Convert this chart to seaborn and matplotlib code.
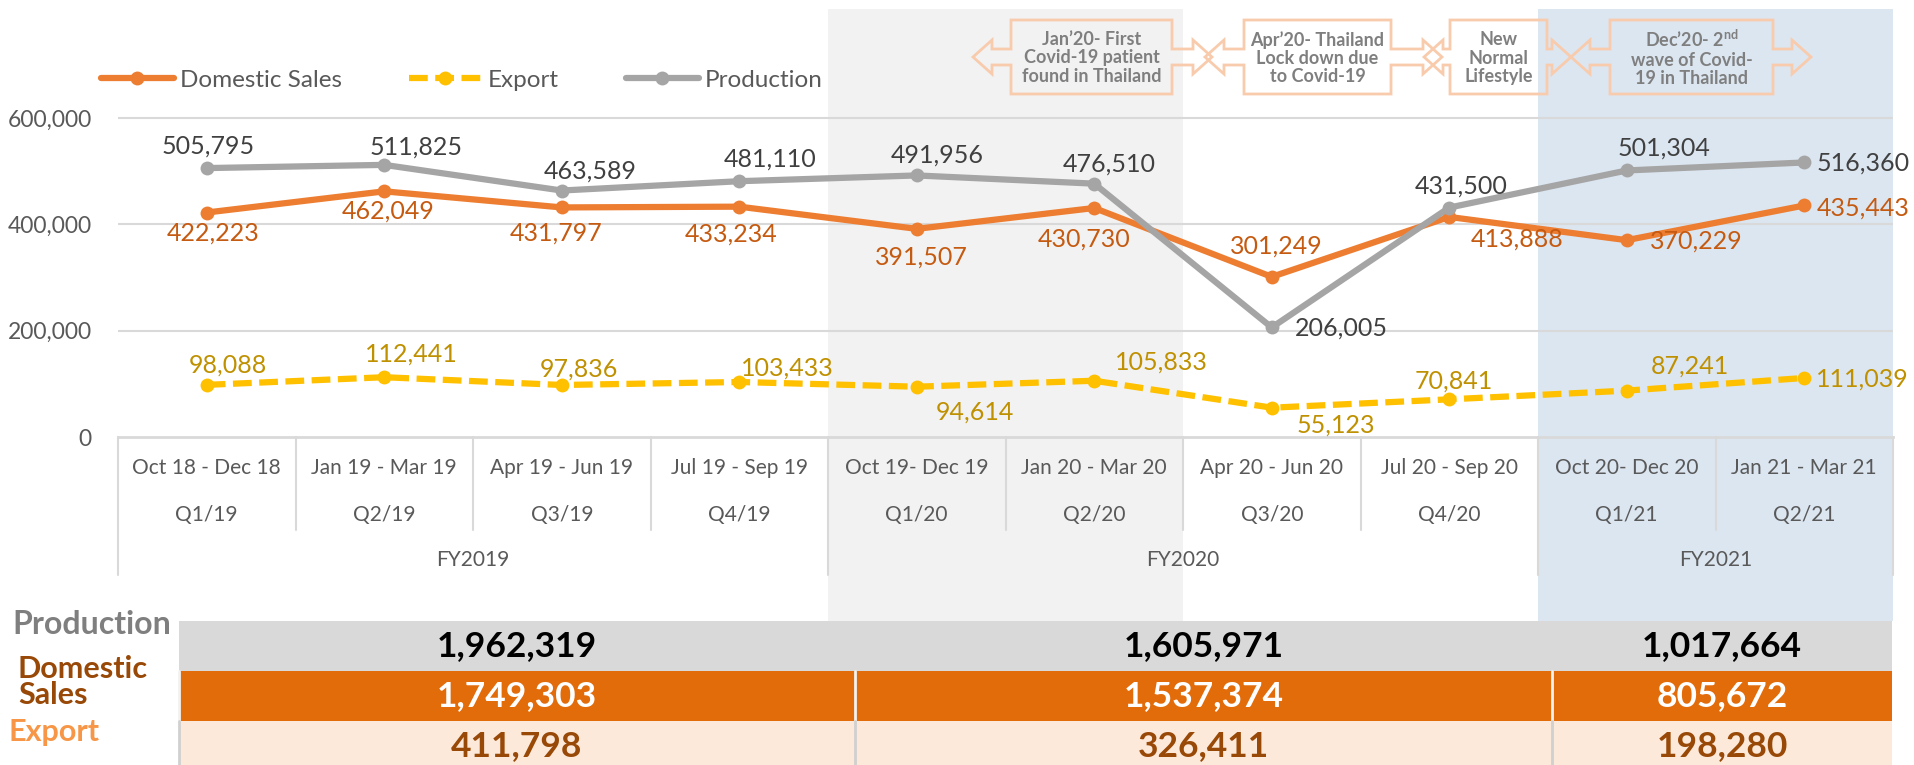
import numpy as np
import pandas as pd
import matplotlib.pyplot as plt
import matplotlib.transforms as mtransforms
from matplotlib.patches import Rectangle, Polygon
import seaborn as sns

# ---- data ----
periods = ['Oct 18 - Dec 18', 'Jan 19 - Mar 19', 'Apr 19 - Jun 19', 'Jul 19 - Sep 19',
           'Oct 19- Dec 19', 'Jan 20 - Mar 20', 'Apr 20 - Jun 20', 'Jul 20 - Sep 20',
           'Oct 20- Dec 20', 'Jan 21 - Mar 21']
quarters = ['Q1/19', 'Q2/19', 'Q3/19', 'Q4/19', 'Q1/20', 'Q2/20', 'Q3/20', 'Q4/20', 'Q1/21', 'Q2/21']
fiscal_years = ['FY2019', 'FY2020', 'FY2021']
fy_quarter_count = [4, 4, 2]

domestic = [422223, 462049, 431797, 433234, 391507, 430730, 301249, 413888, 370229, 435443]
export = [98088, 112441, 97836, 103433, 94614, 105833, 55123, 70841, 87241, 111039]
production = [505795, 511825, 463589, 481110, 491956, 476510, 206005, 431500, 501304, 516360]

fy_production = [1962319, 1605971, 1017664]
fy_domestic = [1749303, 1537374, 805672]
fy_export = [411798, 326411, 198280]

events = ['Jan\u201920- First\nCovid-19 patient\nfound in Thailand',
          'Apr\u201920- Thailand\nLock down due\nto Covid-19',
          'New\nNormal\nLifestyle',
          'Dec\u201920- 2$^{\\mathbf{nd}}$\nwave of Covid-\n19 in Thailand']

# ---- style ----
sns.set_theme(style='white')
plt.rcParams['font.family'] = ['Lato', 'DejaVu Sans']
plt.rcParams['mathtext.fontset'] = 'custom'
plt.rcParams['mathtext.rm'] = 'Lato'
plt.rcParams['mathtext.bf'] = 'Lato:bold'

W, H = 1915, 765
fig = plt.figure(figsize=(W / 100, H / 100), dpi=100)
# pixel coordinates measured from the top-left corner
px = mtransforms.Affine2D().scale(1 / W, -1 / H).translate(0, 1) + fig.transFigure

ax_left, ax_right, ax_top, ax_bottom = 118, 1893, 9, 437
ax = fig.add_axes([ax_left / W, (H - ax_bottom) / H, (ax_right - ax_left) / W, (ax_bottom - ax_top) / H])
ax_h = ax_bottom - ax_top

grey_txt = '#595959'
dom_c, exp_c, prod_c = '#ed7d31', '#ffc000', '#a5a5a5'

# shaded periods (extend down into the category labels)
span_low = -(621 - ax_bottom) / ax_h
ax.axvspan(3.5, 5.5, ymin=span_low, ymax=1, color='#f2f2f2', lw=0, zorder=0, clip_on=False)
ax.axvspan(7.5, 9.5, ymin=span_low, ymax=1, color='#dce6f1', lw=0, zorder=0, clip_on=False)

df = pd.DataFrame({'pos': np.arange(len(periods)), 'Domestic Sales': domestic,
                   'Export': export, 'Production': production})

sns.lineplot(data=df, x='pos', y='Export', ax=ax, color=exp_c, lw=4.5,
             linestyle=(0, (3, 1.2)), marker='o', markersize=10, markeredgewidth=0,
             label='Export', zorder=3)
sns.lineplot(data=df, x='pos', y='Domestic Sales', ax=ax, color=dom_c, lw=4.5,
             marker='o', markersize=10, markeredgewidth=0, label='Domestic Sales', zorder=4)
sns.lineplot(data=df, x='pos', y='Production', ax=ax, color=prod_c, lw=4.5,
             marker='o', markersize=10, markeredgewidth=0, label='Production', zorder=5)

# data labels: pixel offsets, 'c' = centred, 'r' = right of the point
label_specs = [
    (production, '#404040',
     [(1, 22), (32, 18), (28, 19), (31, 22), (20, 20), (15, 20), (23, -1), (12, 22), (37, 22), (12, -1)],
     'ccccccrccr'),
    (domestic, '#c55a11',
     [(6, -21), (4, -20), (-6, -26), (-8, -27), (5, -28), (-10, -31), (5, 31), (68, -22), (23, -1), (12, -3)],
     'ccccccccrr'),
    (export, '#bf9000',
     [(21, 20), (27, 23), (17, 16), (48, 14), (58, -25), (67, 19), (64, -17), (5, 18), (63, 25), (12, -1)],
     'cccccccccr'),
]
for values, col, offs, aligns in label_specs:
    for i, (v, (dx, dy), a) in enumerate(zip(values, offs, aligns)):
        ax.annotate(f'{v:,}', (i, v), xytext=(dx, dy), textcoords='offset pixels',
                    ha='left' if a == 'r' else 'center', va='center',
                    fontsize=18, color=col, zorder=6)

# axes styling
ax.set_ylim(0, 805000)
ax.set_xlim(-0.5, len(periods) - 0.5)
ax.set_yticks([0, 200000, 400000, 600000])
ax.set_yticklabels([f'{t:,}' for t in [0, 200000, 400000, 600000]], fontsize=16.5, color=grey_txt)
ax.tick_params(axis='y', length=0, pad=19)
ax.set_xticks([])
ax.set_xlabel('')
ax.set_ylabel('')
for t in [200000, 400000, 600000]:
    ax.axhline(t, color='#d9d9d9', lw=1.5, zorder=1)
for s in ['top', 'right', 'left']:
    ax.spines[s].set_visible(False)
ax.spines['bottom'].set_color('#d9d9d9')
ax.spines['bottom'].set_linewidth(2)
ax.set_facecolor('none')

# multi-level category axis
xt = ax.get_xaxis_transform()
row1 = -(468 - ax_bottom) / ax_h
row2 = -(515 - ax_bottom) / ax_h
row3 = -(560 - ax_bottom) / ax_h
q_sep = -(530 - ax_bottom) / ax_h
fy_sep = -(575 - ax_bottom) / ax_h
for i, (p, q) in enumerate(zip(periods, quarters)):
    ax.text(i, row1, p, transform=xt, ha='center', va='center', fontsize=15, color=grey_txt)
    ax.text(i, row2, q, transform=xt, ha='center', va='center', fontsize=15, color=grey_txt)
fy_edges = np.concatenate([[0], np.cumsum(fy_quarter_count)]) - 0.5
for k in range(len(periods) + 1):
    x = k - 0.5
    low = fy_sep if x in fy_edges else q_sep
    ax.plot([x, x], [0, low], transform=xt, color='#d9d9d9', lw=1.5, clip_on=False, zorder=1)
for k, fy in enumerate(fiscal_years):
    ax.text((fy_edges[k] + fy_edges[k + 1]) / 2, row3, fy, transform=xt,
            ha='center', va='center', fontsize=15, color=grey_txt)

# legend
handles, labels = ax.get_legend_handles_labels()
order = [labels.index(n) for n in ['Domestic Sales', 'Export', 'Production']]
ax.legend([handles[i] for i in order], [labels[i] for i in order], ncol=3, frameon=False,
          loc='center left', bbox_to_anchor=(101, 80), bbox_transform=px,
          borderpad=0, borderaxespad=0, fontsize=17.5, handlelength=3.0,
          handletextpad=0.25, columnspacing=2.75, labelcolor=grey_txt)

# event callouts (left-right arrow shapes)
callouts = [(1011, 1172, 973, 1212), (1244, 1391, 1205, 1442),
            (1450, 1547, 1424, 1571), (1610, 1773, 1571, 1811)]
y0, y1, yc, sh, hh, hl = 20, 94, 57, 8, 17, 19
for (bx0, bx1, xl, xr), txt in zip(callouts, events):
    pts = [(bx0, y0), (bx1, y0), (bx1, yc - sh), (xr - hl, yc - sh), (xr - hl, yc - hh), (xr, yc),
           (xr - hl, yc + hh), (xr - hl, yc + sh), (bx1, yc + sh), (bx1, y1), (bx0, y1),
           (bx0, yc + sh), (xl + hl, yc + sh), (xl + hl, yc + hh), (xl, yc), (xl + hl, yc - hh),
           (xl + hl, yc - sh), (bx0, yc - sh)]
    fig.add_artist(Polygon(pts, closed=True, fill=False, ec='#f8cbad', lw=2, transform=px))
    fig.text((bx0 + bx1) / 2, yc + 1, txt, transform=px, ha='center', va='center',
             fontsize=13, fontweight='bold', color='#7f7f7f', linespacing=1.1)

# summary table per fiscal year
col_edges = [179, 855, 1552, 1892]
row_tops = [621, 671, 721]
row_h = 50
rows = [(fy_production, '#d9d9d9', 'black', None),
        (fy_domestic, '#e26b0a', 'white', '#f2f2f2'),
        (fy_export, '#fde9d9', '#984807', '#d0d0d0')]
for (vals, fill, tcol, sep), top in zip(rows, row_tops):
    fig.add_artist(Rectangle((col_edges[0], top), col_edges[-1] - col_edges[0], row_h,
                             transform=px, fc=fill, ec='none'))
    for j, v in enumerate(vals):
        fig.text((col_edges[j] + col_edges[j + 1]) / 2, top + row_h / 2, f'{v:,}', transform=px,
                 ha='center', va='center', fontsize=25.5, fontweight='bold', color=tcol)
    if sep:
        for x in col_edges[:-1]:
            fig.add_artist(plt.Line2D([x, x], [top, top + row_h], transform=px, color=sep, lw=2))

fig.text(12, 625, 'Production', transform=px, ha='left', va='center',
         fontsize=23, fontweight='bold', color='#7f7f7f')
fig.text(18, 682, 'Domestic\nSales', transform=px, ha='left', va='center',
         fontsize=22, fontweight='bold', color='#984807', linespacing=0.88)
fig.text(9, 732, 'Export', transform=px, ha='left', va='center',
         fontsize=22, fontweight='bold', color='#f79646')

fig.savefig('out.png', dpi=100)
